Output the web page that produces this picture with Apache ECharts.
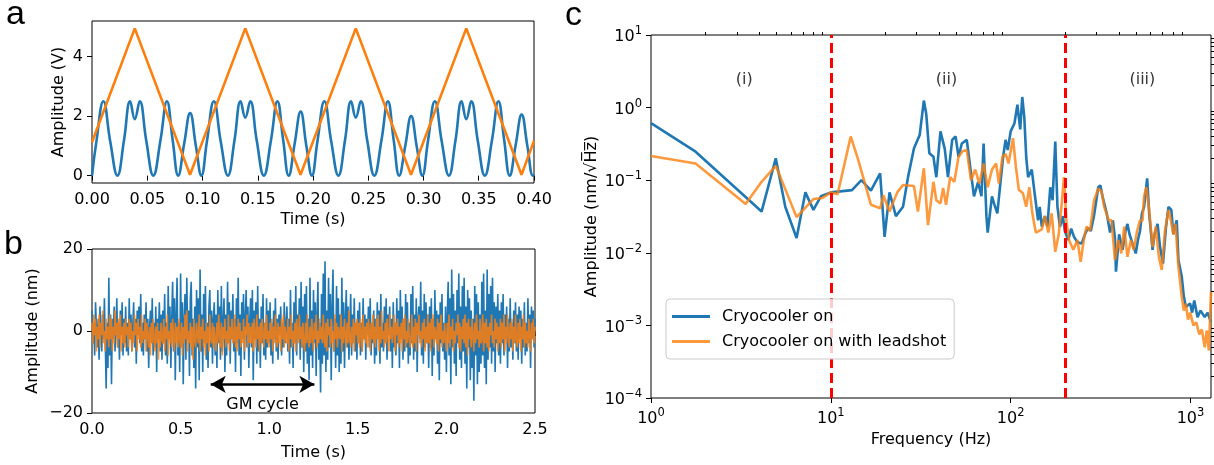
<!DOCTYPE html>
<html>
<head>
<meta charset="utf-8">
<script src="https://cdn.jsdelivr.net/npm/echarts@6/dist/echarts.min.js"></script>
<style>
  html, body { margin: 0; padding: 0; background: #fff; }
  #chart { width: 1214px; height: 465px; }
</style>
</head>
<body>
<div id="chart"></div>
<script>
// ---------- (a) interferometer fringe signal and piezo drive ----------
const fringeTime = [0, 0.004, 0.0103, 0.0165, 0.023, 0.029, 0.0345, 0.0387, 0.0432, 0.049, 0.0555, 0.062, 0.0678, 0.073, 0.078, 0.0835, 0.0888, 0.094, 0.099,
  0.104, 0.1103, 0.1165, 0.123, 0.129, 0.1345, 0.1387, 0.1432, 0.149, 0.1555, 0.162, 0.1678, 0.173, 0.178, 0.1835, 0.1888, 0.194, 0.199,
  0.204, 0.2103, 0.2165, 0.223, 0.229, 0.2345, 0.2387, 0.2432, 0.249, 0.2555, 0.262, 0.2678, 0.273, 0.278, 0.2835, 0.2888, 0.294, 0.299,
  0.304, 0.3103, 0.3165, 0.323, 0.329, 0.3345, 0.3387, 0.3432, 0.349, 0.3555, 0.362, 0.3678, 0.373, 0.378, 0.3835, 0.3888, 0.394, 0.399, 0.4];
const fringeVolt = [0, 1.15, 2.5, 1.15, 0, 1.2, 2.5, 1.9, 2.5, 1.2, 0, 1.2, 2.5, 1.2, 0, 1.1, 2.1, 1.0, 0,
  1.15, 2.5, 1.15, 0, 1.2, 2.5, 1.95, 2.5, 1.2, 0, 1.2, 2.5, 1.2, 0, 1.1, 2.15, 1.0, 0,
  1.15, 2.5, 1.15, 0, 1.2, 2.5, 1.95, 2.5, 1.2, 0, 1.2, 2.5, 1.2, 0, 1.0, 2.0, 0.95, 0,
  1.15, 2.5, 1.15, 0, 1.2, 2.5, 1.9, 2.5, 1.2, 0, 1.2, 2.5, 1.2, 0, 1.05, 2.05, 1.0, 0, 0.03];
const driveTime = [0, 0.0387, 0.0887, 0.1387, 0.1887, 0.2387, 0.2887, 0.3387, 0.3887, 0.4];
const driveVolt = [1.12, 4.95, 0.03, 4.95, 0.03, 4.95, 0.03, 4.95, 0.03, 1.17];
const voltTicks = [0, 2, 4];

// ---------- (b) displacement noise, sampled every 5 ms ----------
const noiseStep = 0.005;
const noiseOn = [
  5, -3, 2, -6, 7, 1, -4, 3, -7, 6, 0, -5, 4, -2, 8, -3, -14, 2, -9, 13,
  -6, 4, -13, 3, -2, 6, -5, 1, 8, -4, 2, -7, 5, -1, 7, -6, 3, -3, 6, -5,
  2, -6, 8, -2, 4, -5, 1, 7, -4, 3, -8, 5, -1, 6, -3, 9, -5, 2, -6, 4,
  -2, 7, -5, 3, -9, 1, 5, -3, 8, -6, 2, -4, 6, -10, 3, -2, 7, -5, 4, -7,
  5, -3, 9, -6, 2, -8, 11, -2, 6, -9, 3, 12, -5, 8, -12, 4, 13, -6, 2, -10,
  14, -4, 7, -13, 3, 9, -7, 13, -2, 5, -11, 8, 12, -6, 3, -9, 6, -14, 10, -4,
  8, -12, 15, -5, 4, -10, 9, -3, 11, -7, 2, -9, 6, 10, -4, 5, -8, 3, 7, -6,
  4, -9, 10, -3, 6, -7, 11, -5, 2, 8, -10, 4, -6, 12, -3, 7, -8, 5, -2, 9,
  -5, 3, -10, 8, -3, 13, -6, 4, -11, 7, -2, 9, -7, 3, 10, -4, 6, -9, 2, 8,
  -4, 10, -12, 5, -2, 7, -8, 11, -5, 3, -9, 6, -3, 9, -6, 2, -7, 8, -4, 5,
  -3, 7, -6, 2, -8, 5, -2, 8, -5, 3, -7, 4, -1, 6, -6, 2, -4, 7, -3, 1,
  6, -5, 3, -8, 10, -4, 2, -9, 7, -3, 11, -6, 4, -2, 8, -7, 12, -4, 6, -10,
  9, -5, 11, -8, 3, -12, 13, -6, 5, -9, 10, -3, 7, -11, 4, 12, -7, 2, -15, 9,
  -8, 14, -6, 17, -10, 5, -7, 13, -4, 9, -12, 6, 15, -5, 3, -9, 11, -6, 8, -10,
  4, -8, 13, -5, 7, -9, 3, 10, -4, 6, -7, 2, 9, -6, 4, -3, 8, -5, 2, -7,
  5, -3, 7, -6, 2, -5, 8, -2, 4, -7, 3, -1, 6, -4, 8, -6, 2, -3, 5, -8,
  3, -6, 7, -2, 5, -8, 9, -4, 2, -5, 6, -3, 8, -7, 4, -1, 6, -5, 3, -9,
  7, -4, 2, -6, 8, -3, 5, -9, 10, -2, 6, -7, 3, -5, 9, -4, 7, -8, 2, -6,
  9, -3, 11, -7, 4, -5, 8, -10, 3, 6, -2, 12, -6, 5, -8, 9, -4, 7, -3, 4,
  -9, 6, -4, 8, -11, 3, -6, 10, -2, 5, -8, 4, -12, 7, -3, 9, -5, 2, -7, 6,
  -10, 4, 12, -6, 8, -13, 15, -4, 9, -8, 5, -11, 10, -3, 14, -7, 6, -9, 11, -5,
  13, -8, 6, -14, 10, -4, 8, -12, 5, -9, 3, -17, 11, -6, 9, -13, 7, -10, 4, -8,
  12, -6, 14, -9, 5, -13, 15, -7, 9, -4, 11, -8, 13, -5, 7, -10, 6, -3, 9, -6,
  5, -8, 7, -3, 9, -6, 4, -2, 6, -9, 3, -5, 8, -4, 2, -7, 5, -3, 7, -5,
  4, -7, 6, -2, 5, -8, 3, -4, 7, -6, 2, -5, 8, -3, 4, -9, 6, -2, 5, -4,
  3];
const noiseLead = [
  2, -3, 4, -1, 3, -5, 1, -2, 4, -4, 2, -1, 5, -3, 0, -5, 3, -2, 1, -4,
  4, -2, 3, -5, 1, -3, 5, -1, 2, -4, 3, -2, 4, -5, 1, -3, 2, -4, 3, -1,
  1, -4, 3, -2, 2, -5, 0, -3, 4, -1, 2, -5, 3, -2, 1, -4, 4, -3, 0, -2,
  3, -5, 2, -1, -4, 1, -6, 2, -3, 3, -2, -5, 1, -3, 2, -7, 0, -4, 2, -2,
  -3, 3, -5, 1, -2, 4, -6, 0, -3, 2, -4, 3, -1, -5, 2, -3, 1, -4, 3, -2,
  -4, 2, -6, 1, -3, 4, -2, 5, -5, 0, -3, 2, -4, 1, -7, 3, -2, -4, 2, -1,
  -3, 4, -5, 1, -2, 3, -4, 0, -6, 2, -3, 1, -5, 4, -2, -3, 2, -4, 1, -2,
  -5, 2, -3, 4, -1, -4, 2, -6, 1, -2, 3, -4, 0, -3, 4, -5, 1, -2, 3, -3,
  -2, 4, -4, 1, -5, 3, -2, 2, -4, 0, -3, 3, -5, 1, -1, 4, -4, 2, -3, 1,
  -3, 2, -5, 3, -1, -4, 4, -2, 1, -5, 2, -3, 3, -1, -4, 2, -2, 4, -3, 0,
  -4, 2, -2, 3, -5, 1, -3, 4, -1, -4, 2, -3, 1, -5, 3, -2, 4, -4, 1, -2,
  -3, 3, -5, 1, -2, 4, -4, 0, -3, 2, -5, 3, -1, -3, 4, -2, 1, -4, 2, -3,
  -5, 2, -3, 4, -2, -4, 1, -3, 3, -1, -5, 2, -2, 4, -4, 0, -3, 3, -2, 1,
  -3, 4, -2, -4, 2, -5, 3, -1, 1, -4, 3, -3, 0, -5, 4, -2, 2, -4, 1, -1,
  -2, 4, -5, 1, -3, 3, -1, -4, 2, -3, 5, -2, -4, 1, -3, 3, -5, 2, -1, 3,
  -3, 2, -4, 3, -1, -5, 4, -2, 1, -3, 2, -4, 3, 0, -5, 2, -2, 4, -3, 1,
  -4, 3, -2, 4, -5, 1, -3, 5, -2, 0, -4, 2, -3, 3, -1, -5, 4, -2, 1, -3,
  -3, 4, -5, 2, -1, 3, -4, 1, -3, 2, -5, 3, -2, 4, -4, 0, -3, 3, -1, -4,
  -2, 4, -4, 1, -3, 3, -5, 2, -1, 4, -3, 0, -4, 2, -2, 3, -5, 1, -3, 4,
  -3, 2, -5, 3, -2, 4, -4, 1, -1, -3, 3, -5, 2, -2, 4, -4, 0, -3, 2, -2,
  -5, 2, -3, 4, -4, 1, -2, 3, -5, 0, -3, 2, -1, 4, -4, 2, -5, 1, -2, 3,
  -3, 4, -4, 2, -6, 3, -2, 1, -4, 3, -1, -5, 2, -3, 4, -2, 0, -4, 3, -3,
  -2, 4, -5, 2, -3, 3, -4, 1, -5, 2, -1, 4, -3, 0, -4, 3, -2, 2, -5, 1,
  -3, 3, -4, 2, -2, 4, -5, 1, -3, 4, -1, -4, 2, -2, 3, -5, 1, -3, 4, -2,
  -4, 2, -3, 3, -5, 1, -2, 4, -4, 2, -3, 0, -4, 3, -1, -5, 2, -2, 3, -3,
  1];
const gmCycleStart = 0.67, gmCycleEnd = 1.255, gmCycleLevel = -13;

// ---------- (c) amplitude spectral density ----------
const freqOn = [1, 1.77, 4.12, 4.94, 5.58, 6.45, 7.22, 8.0, 8.8, 10, 13.1, 14.8, 16.7, 18.8, 19.9, 21.2, 23, 25.2, 26.9, 29,
  31.2, 32.9, 33.9, 35.3, 37.2, 38.6, 40.7, 43, 44.8, 47.3, 49.4, 51.3, 53.5, 57, 60.2, 62.5, 65.9, 68.8, 70.7, 73.3,
  74.5, 78.7, 80.8, 84.3, 87.2, 90.8, 93.7, 96.3, 100, 105, 109, 113, 116, 119, 122, 125, 131, 136, 142, 145,
  149, 155, 160, 166, 171, 177, 182, 188, 195, 200, 209, 217, 225, 235, 248, 259, 269, 279, 291, 307,
  315, 324, 342, 357, 370, 380, 385, 401, 419, 435, 446, 458, 476, 496, 510, 524, 537, 552, 574, 589,
  615, 631, 656, 677, 703, 730, 754, 782, 803, 838, 857, 894, 918, 942, 995, 1021, 1049, 1094, 1137, 1200, 1245, 1300];
const ampOn = [0.61, 0.247, 0.037, 0.2, 0.043, 0.016, 0.068, 0.039, 0.06, 0.068, 0.073, 0.10, 0.072, 0.124, 0.0166, 0.068, 0.032, 0.043, 0.112, 0.275,
  0.42, 1.25, 0.83, 0.235, 0.21, 0.11, 0.47, 0.27, 0.11, 0.36, 0.40, 0.21, 0.32, 0.36, 0.124, 0.06, 0.094, 0.06, 0.32, 0.032,
  0.019, 0.06, 0.048, 0.035, 0.08, 0.21, 0.36, 0.26, 0.47, 0.61, 1.1, 0.5, 1.4, 0.75, 0.21, 0.11, 0.14, 0.065, 0.028, 0.043,
  0.023, 0.032, 0.023, 0.08, 0.053, 0.34, 0.043, 0.023, 0.032, 0.02, 0.015, 0.0215, 0.0166, 0.014, 0.0134, 0.018, 0.022, 0.02, 0.033, 0.08,
  0.085, 0.06, 0.035, 0.019, 0.028, 0.016, 0.0055, 0.018, 0.011, 0.02, 0.025, 0.018, 0.0134, 0.0098, 0.015, 0.02, 0.035, 0.043, 0.106, 0.035,
  0.011, 0.018, 0.025, 0.012, 0.0071, 0.022, 0.043, 0.039, 0.018, 0.028, 0.0079, 0.0047, 0.0025, 0.0018, 0.002, 0.0015, 0.0022, 0.0013, 0.0016, 0.0013, 0.0015, 0.0011];
const freqLead = [1, 1.77, 3.36, 4.12, 4.94, 6.45, 8.0, 9.0, 10, 10.9, 12.9, 14.2, 16.7, 18.8, 19.6, 21.2, 23.4, 25.2, 29, 30.5,
  32.9, 34.7, 37.2, 38.6, 40.7, 42.1, 43.7, 46.1, 48.6, 51.3, 54, 57, 60.2, 63.5, 67, 70.7, 74.5, 78.7, 83, 86,
  90, 93.7, 97.3, 103, 107, 111, 117, 122, 127, 132, 138, 149, 155, 162, 169, 177, 185, 193, 198, 204,
  211, 223, 235, 245, 255, 264, 276, 291, 307, 320, 331, 351, 364, 380, 397, 412, 428, 446, 466, 483,
  505, 524, 541, 552, 568, 589, 615, 641, 667, 692, 721, 754, 778, 803, 825, 857, 894, 918, 942, 968,
  995, 1038, 1077, 1119, 1156, 1200, 1231, 1265, 1300];
const ampLead = [0.215, 0.17, 0.047, 0.095, 0.158, 0.031, 0.055, 0.057, 0.068, 0.064, 0.40, 0.19, 0.046, 0.041, 0.062, 0.037, 0.068, 0.086, 0.083, 0.037,
  0.146, 0.024, 0.095, 0.053, 0.048, 0.078, 0.046, 0.11, 0.095, 0.21, 0.25, 0.26, 0.10, 0.14, 0.09, 0.17, 0.08, 0.14, 0.17, 0.09,
  0.21, 0.23, 0.17, 0.38, 0.15, 0.074, 0.066, 0.043, 0.08, 0.035, 0.019, 0.021, 0.032, 0.019, 0.035, 0.0103, 0.018, 0.053, 0.11, 0.028,
  0.015, 0.011, 0.015, 0.0075, 0.015, 0.023, 0.02, 0.053, 0.077, 0.07, 0.043, 0.028, 0.028, 0.0079, 0.015, 0.0098, 0.023, 0.0088, 0.015, 0.011,
  0.02, 0.028, 0.028, 0.06, 0.08, 0.039, 0.012, 0.023, 0.0088, 0.0058, 0.02, 0.039, 0.028, 0.018, 0.025, 0.0064, 0.0025, 0.0016, 0.002, 0.0012,
  0.0015, 0.001, 0.0011, 0.00075, 0.00088, 0.0005, 0.00085, 0.00045, 0.0029];
const bandEdges = [10, 200];
const bandNames = ['(i)', '(ii)', '(iii)'];
const bandNameFreq = [3.3, 44, 540];
const bandNameAmp = [2.4, 2.4, 2.4];
const freqDecades = [1, 10, 100, 1000];
const ampDecades = [1e-4, 1e-3, 1e-2, 1e-1, 1, 10];

// minor ticks at 2..9 within each decade
const minorSteps = [2, 3, 4, 5, 6, 7, 8, 9];
const freqMinor = [], ampMinor = [];
[1, 10, 100, 1000].forEach(d => minorSteps.forEach(m => { if (d * m <= 1300) freqMinor.push(d * m); }));
[1e-4, 1e-3, 1e-2, 1e-1, 1].forEach(d => minorSteps.forEach(m => ampMinor.push(+(d * m).toPrecision(3))));

// ---------- styling ----------
const FONT = 'DejaVu Sans';
const BLUE = '#1f77b4', ORANGE = '#ff7f0e';
const zip = (xs, ys) => xs.map((x, i) => [x, ys[i]]);
const minus = v => String(v).replace('-', '\u2212');
const tickLabel = { color: '#000', fontFamily: FONT, fontSize: 16, margin: 9 };
const tickStyle = { show: true, length: 5, lineStyle: { color: '#000', width: 1 } };
const nameStyle = { color: '#000', fontFamily: FONT, fontSize: 16 };
const powLabel = v => {
  const e = Math.round(Math.log10(v));
  return '{b|10}{s|' + (e < 0 ? '\u2212' + (-e) : e) + '}';
};
const powRich = {
  b: { fontFamily: FONT, fontSize: 16, color: '#000', lineHeight: 20, verticalAlign: 'bottom' },
  s: { fontFamily: FONT, fontSize: 11.5, color: '#000', lineHeight: 12, verticalAlign: 'top' }
};
const plain = { axisLine: { show: false }, splitLine: { show: false } };

const chart = echarts.init(document.getElementById('chart'), null, { renderer: 'canvas' });
chart.setOption({
  animation: false,
  backgroundColor: '#fff',
  grid: [
    { left: 92, top: 21, width: 442, height: 162, show: true, borderColor: '#000', borderWidth: 1, outerBoundsMode: 'none' },
    { left: 92, top: 249, width: 443, height: 164, show: true, borderColor: '#000', borderWidth: 1, outerBoundsMode: 'none' },
    { left: 651, top: 35, width: 560, height: 363, show: true, borderColor: '#000', borderWidth: 1, outerBoundsMode: 'none' }
  ],
  xAxis: [
    Object.assign({ type: 'value', gridIndex: 0, min: 0, max: 0.4, interval: 0.05,
      axisTick: tickStyle, axisLabel: Object.assign({ formatter: v => v.toFixed(2) }, tickLabel),
      name: 'Time (s)', nameLocation: 'middle', nameGap: 29, nameTextStyle: nameStyle }, plain),
    Object.assign({ type: 'value', gridIndex: 1, min: 0, max: 2.5, interval: 0.5,
      axisTick: tickStyle, axisLabel: Object.assign({ formatter: v => v.toFixed(1) }, tickLabel),
      name: 'Time (s)', nameLocation: 'middle', nameGap: 32, nameTextStyle: nameStyle }, plain),
    Object.assign({ type: 'log', logBase: 10, gridIndex: 2, min: 1, max: 1300,
      axisTick: Object.assign({ customValues: freqDecades }, tickStyle),
      axisLabel: Object.assign({ customValues: freqDecades, formatter: powLabel, rich: powRich }, tickLabel),
      name: 'Frequency (Hz)', nameLocation: 'middle', nameGap: 32, nameTextStyle: nameStyle }, plain),
    Object.assign({ type: 'log', logBase: 10, gridIndex: 2, min: 1, max: 1300,
      axisTick: { show: true, length: 3, customValues: freqMinor, lineStyle: { color: '#000', width: 1 } },
      axisLabel: { show: false } }, plain)
  ],
  yAxis: [
    Object.assign({ type: 'value', gridIndex: 0, min: -0.2475, max: 5.1975,
      axisTick: Object.assign({ customValues: voltTicks }, tickStyle),
      axisLabel: Object.assign({ customValues: voltTicks, formatter: minus }, tickLabel),
      name: 'Amplitude (V)', nameLocation: 'middle', nameGap: 25, nameTextStyle: nameStyle }, plain),
    Object.assign({ type: 'value', gridIndex: 1, min: -20, max: 20, interval: 20,
      axisTick: tickStyle, axisLabel: Object.assign({ formatter: minus }, tickLabel),
      name: 'Amplitude (nm)', nameLocation: 'middle', nameGap: 51, nameTextStyle: nameStyle }, plain),
    Object.assign({ type: 'log', logBase: 10, gridIndex: 2, min: 1e-4, max: 10,
      axisTick: Object.assign({ customValues: ampDecades }, tickStyle),
      axisLabel: Object.assign({ customValues: ampDecades, formatter: powLabel, rich: powRich }, tickLabel),
      name: 'Amplitude (nm/\u221AH\u0305z\u0305)', nameLocation: 'middle', nameGap: 51, nameTextStyle: nameStyle }, plain),
    Object.assign({ type: 'log', logBase: 10, gridIndex: 2, min: 1e-4, max: 10,
      axisTick: { show: true, length: 3, customValues: ampMinor, lineStyle: { color: '#000', width: 1 } },
      axisLabel: { show: false } }, plain)
  ],
  legend: {
    orient: 'vertical', left: 666, top: 299, z: 6,
    data: ['Cryocooler on', 'Cryocooler on with leadshot'],
    icon: 'rect', itemWidth: 38, itemHeight: 3, itemGap: 6,
    padding: [8, 8, 8, 6],
    borderColor: '#cccccc', borderWidth: 1, borderRadius: 4,
    backgroundColor: 'rgba(255,255,255,0.8)',
    textStyle: { fontFamily: FONT, fontSize: 16, color: '#000', lineHeight: 19, padding: [0, 0, 0, 7] }
  },
  series: [
    { name: 'fringe', type: 'line', xAxisIndex: 0, yAxisIndex: 0, data: zip(fringeTime, fringeVolt),
      smooth: 0.45, showSymbol: false, symbol: 'none', lineStyle: { color: BLUE, width: 2.6 } },
    { name: 'drive', type: 'line', xAxisIndex: 0, yAxisIndex: 0, data: zip(driveTime, driveVolt),
      showSymbol: false, symbol: 'none', lineStyle: { color: ORANGE, width: 2.6 } },

    { name: 'noise on', type: 'line', xAxisIndex: 1, yAxisIndex: 1,
      data: noiseOn.map((v, i) => [i * noiseStep, v]),
      showSymbol: false, symbol: 'none', lineStyle: { color: BLUE, width: 1.6 } },
    { name: 'noise lead', type: 'line', xAxisIndex: 1, yAxisIndex: 1,
      data: noiseLead.map((v, i) => [i * noiseStep, v]),
      showSymbol: false, symbol: 'none', lineStyle: { color: ORANGE, width: 1.6, opacity: 0.85 } },
    { name: 'gm cycle', type: 'line', xAxisIndex: 1, yAxisIndex: 1, data: [], z: 5,
      markLine: { silent: true, symbol: ['arrow', 'arrow'], symbolSize: [13, 15],
        lineStyle: { color: '#000', width: 2.5, type: 'solid' },
        label: { show: true, position: 'insideMiddleBottom', distance: 13, formatter: 'GM cycle',
          color: '#000', fontFamily: FONT, fontSize: 16 },
        data: [[{ coord: [gmCycleStart, gmCycleLevel] }, { coord: [gmCycleEnd, gmCycleLevel] }]] } },

    { name: 'Cryocooler on', type: 'line', xAxisIndex: 2, yAxisIndex: 2, data: zip(freqOn, ampOn),
      showSymbol: false, symbol: 'none', itemStyle: { color: BLUE }, lineStyle: { color: BLUE, width: 2.6 } },
    { name: 'Cryocooler on with leadshot', type: 'line', xAxisIndex: 2, yAxisIndex: 2, data: zip(freqLead, ampLead),
      showSymbol: false, symbol: 'none', itemStyle: { color: ORANGE, opacity: 0.8 }, lineStyle: { color: ORANGE, width: 2.6, opacity: 0.8 } },
    { name: 'bands', type: 'line', xAxisIndex: 2, yAxisIndex: 2, data: [], z: 3,
      markLine: { silent: true, symbol: 'none', label: { show: false },
        lineStyle: { color: '#ff0000', width: 3, type: [10, 5] },
        data: bandEdges.map(f => ({ xAxis: f })) } },
    { name: 'band names', type: 'scatter', xAxisIndex: 2, yAxisIndex: 2, z: 3, symbolSize: 0,
      data: bandNameFreq.map((f, i) => [f, bandNameAmp[i], bandNames[i]]),
      label: { show: true, position: 'inside', formatter: p => p.data[2], color: '#000', fontFamily: FONT, fontSize: 16 } }
  ],
  graphic: [
    { type: 'text', left: 6, top: -2, style: { text: 'a', fontFamily: 'Liberation Sans', fontSize: 34, fill: '#000' } },
    { type: 'text', left: 4, top: 228, style: { text: 'b', fontFamily: 'Liberation Sans', fontSize: 34, fill: '#000' } },
    { type: 'text', left: 565, top: -1, style: { text: 'c', fontFamily: 'Liberation Sans', fontSize: 34, fill: '#000' } }
  ]
});
</script>
</body>
</html>
